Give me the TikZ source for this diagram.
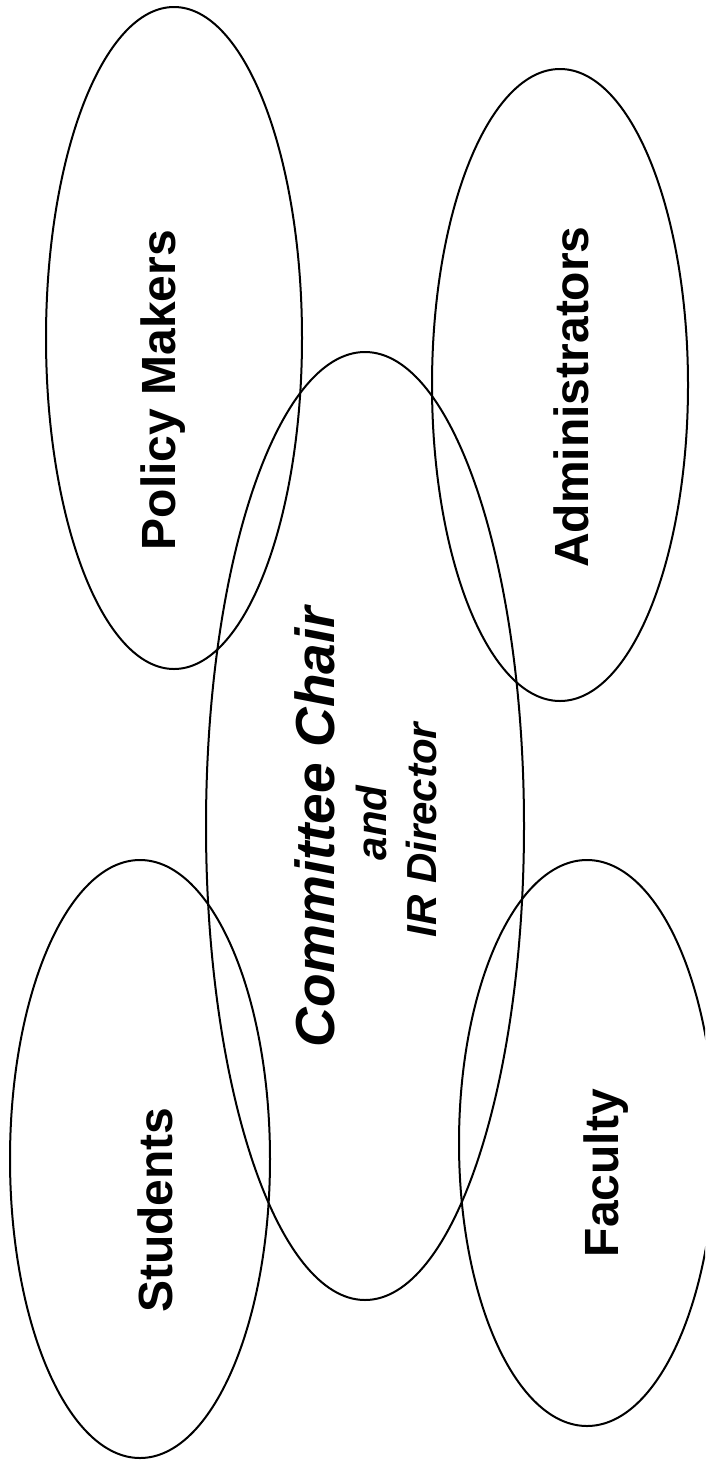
\documentclass[tikz,border=0pt]{standalone}
\usepackage{fontspec}
\setmainfont{Liberation Sans}
\usetikzlibrary{shapes.geometric}
\tikzset{
  oval/.style={ellipse, draw=black, line width=2pt, inner sep=0pt},
  lbl/.style={rotate=90, anchor=base, inner sep=0pt, font=\fontsize{48pt}{56pt}\selectfont\bfseries},
  bigit/.style={rotate=90, anchor=base, inner sep=0pt, font=\fontsize{55pt}{62pt}\selectfont\bfseries\itshape},
  smallit/.style={rotate=90, anchor=base, inner sep=0pt, font=\fontsize{42pt}{50pt}\selectfont\bfseries\itshape}
}
\begin{document}
\begin{tikzpicture}[x=1pt, y=-1pt]
\useasboundingbox (0,0) rectangle (705,1467);
\clip (0,0) rectangle (705,1467);
\fill[white] (0,0) rectangle (705,1467);
% ellipses
\node[oval, minimum width=256pt, minimum height=662pt] (policy) at (174,338) {};
\node[oval, minimum width=256pt, minimum height=632pt] (admin) at (560,385) {};
\node[oval, minimum width=318pt, minimum height=948pt] (committee) at (365,826) {};
\node[oval, minimum width=260pt, minimum height=598pt] (students) at (140,1159) {};
\node[oval, minimum width=256pt, minimum height=566pt] (faculty) at (587,1143) {};
% labels
\node[lbl] (tpolicy) at (175,390) {Policy Makers};
\node[lbl] (tadmin) at (588,397) {Administrators};
\node[lbl] (tstudents) at (172,1210) {Students};
\node[lbl] (tfaculty) at (618,1173) {Faculty};
\node[bigit] (tchair) at (334,827) {Committee Chair};
\node[smallit] (tand) at (386,823) {and};
\node[smallit] (tdir) at (436,830) {IR Director};
\end{tikzpicture}
\end{document}
